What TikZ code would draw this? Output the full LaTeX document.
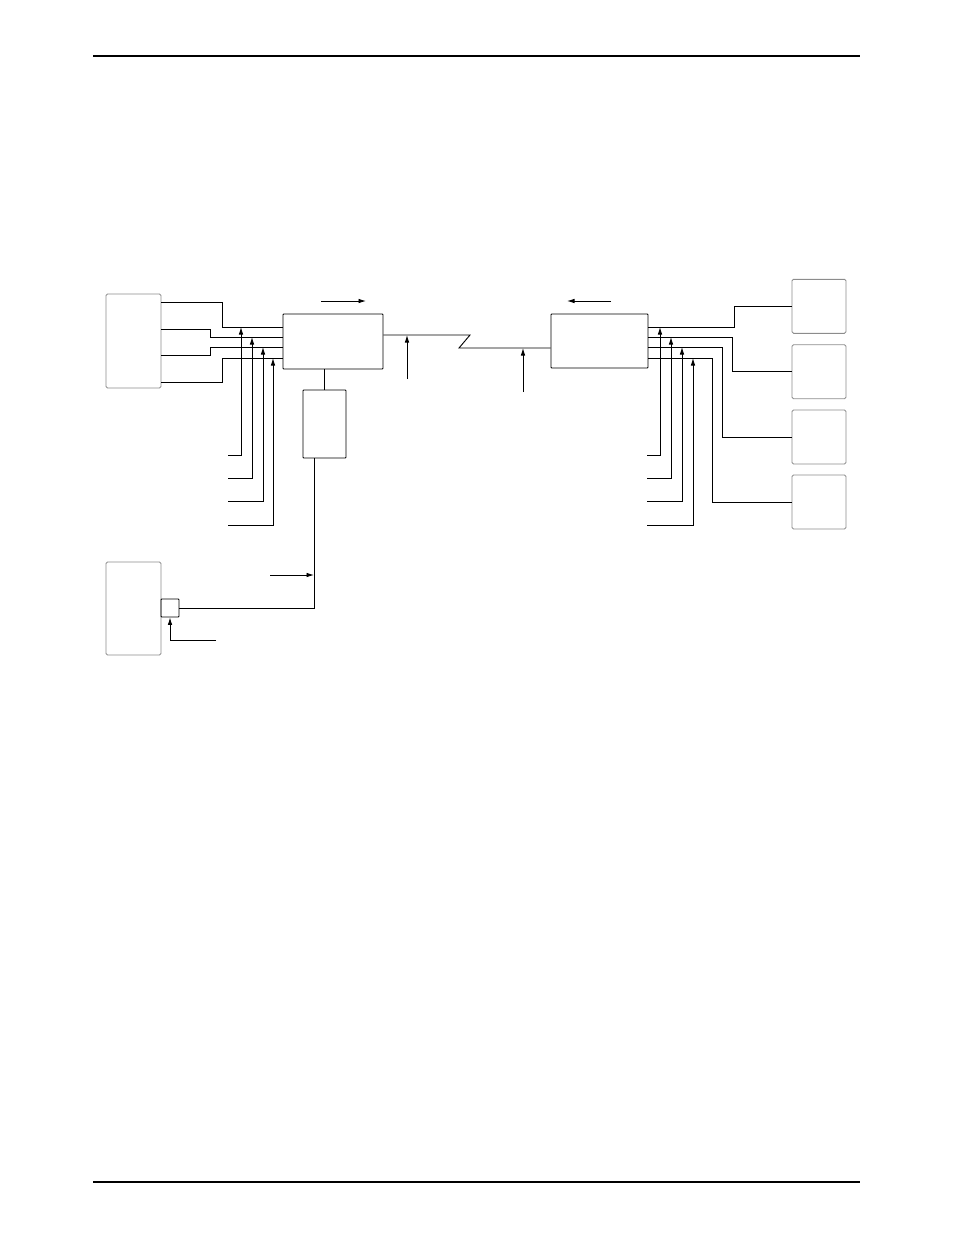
\documentclass[tikz,border=0pt]{standalone}
\usetikzlibrary{arrows.meta}

\begin{document}
\begin{tikzpicture}[x=1pt, y=-1pt, line width=0.9pt,
  devbox/.style={draw=black!45, rounded corners=1.5pt, inner sep=0pt},
  unitbox/.style={draw, rounded corners=0.8pt, inner sep=0pt},
  tip/.style={-{Latex[length=7.5pt,width=4.6pt]}}]
  \useasboundingbox (0,0) rectangle (954,1235);

  % page rules
  \draw[line width=1.2pt] (93,56) -- (860,56);
  \draw[line width=1.2pt] (93,1182) -- (860,1182);

  % boxes
  \node[devbox, minimum width=55pt, minimum height=94pt] (termA) at (133.5,341) {};
  \node[devbox, minimum width=55pt, minimum height=93pt] (termB) at (133.5,608.5) {};
  \node[unitbox, minimum width=18pt, minimum height=18pt] (port) at (170,608) {};
  \node[unitbox, minimum width=100pt, minimum height=55pt] (muxA) at (333,341.5) {};
  \node[unitbox, minimum width=97pt, minimum height=54pt] (muxB) at (599.5,341) {};
  \node[unitbox, minimum width=43pt, minimum height=68pt] (cons) at (324.5,424) {};
  \foreach \n/\y in {1/306.3, 2/371.7, 3/437, 4/502}
    \node[devbox, minimum width=54pt, minimum height=54pt] (dev\n) at (819,\y) {};

  % left side lines into muxA
  \foreach \ya/\xb/\yb in {302/222/327, 329/210/337, 355/210/347, 382/222/358}
    \draw (termA.east |- 0,\ya) -- (\xb,\ya) |- (muxA.west |- 0,\yb);
  \foreach \x/\yb/\yt in {241/455/327, 252/478/337, 263/501/347, 273/525/358}
    \draw[tip] (228,\yb) -| (\x,\yt);

  % right side lines out of muxB
  \foreach \ya/\xb/\n in {327/734/1, 337/732/2, 347/722/3, 358/712/4}
    \draw (muxB.east |- 0,\ya) -- (\xb,\ya) |- (dev\n.west);
  \foreach \x/\yb/\yt in {660/455/327, 671/478/337, 682/501/347, 693/525/358}
    \draw[tip] (647,\yb) -| (\x,\yt);

  % direction arrows
  \draw[tip] (321,301) -- (366,301);
  \draw[tip] (611,301) -- (567,301);

  % link between the two mux units
  \draw (muxA.east |- 0,335) -- (470,335) -- (459,348) -- (muxB.west |- 0,348);
  \draw[tip] (407,379) -- (407,335);
  \draw[tip] (523,392) -- (523,348);

  % console and its line to the port
  \draw (cons.north) -- (cons.north |- muxA.south);
  \draw (314,0 |- cons.south) -- (314,608) -- (port.east);
  \draw[tip] (270,575) -- (314,575);
  \draw[tip] (216,640) -| (port.south);
\end{tikzpicture}
\end{document}
